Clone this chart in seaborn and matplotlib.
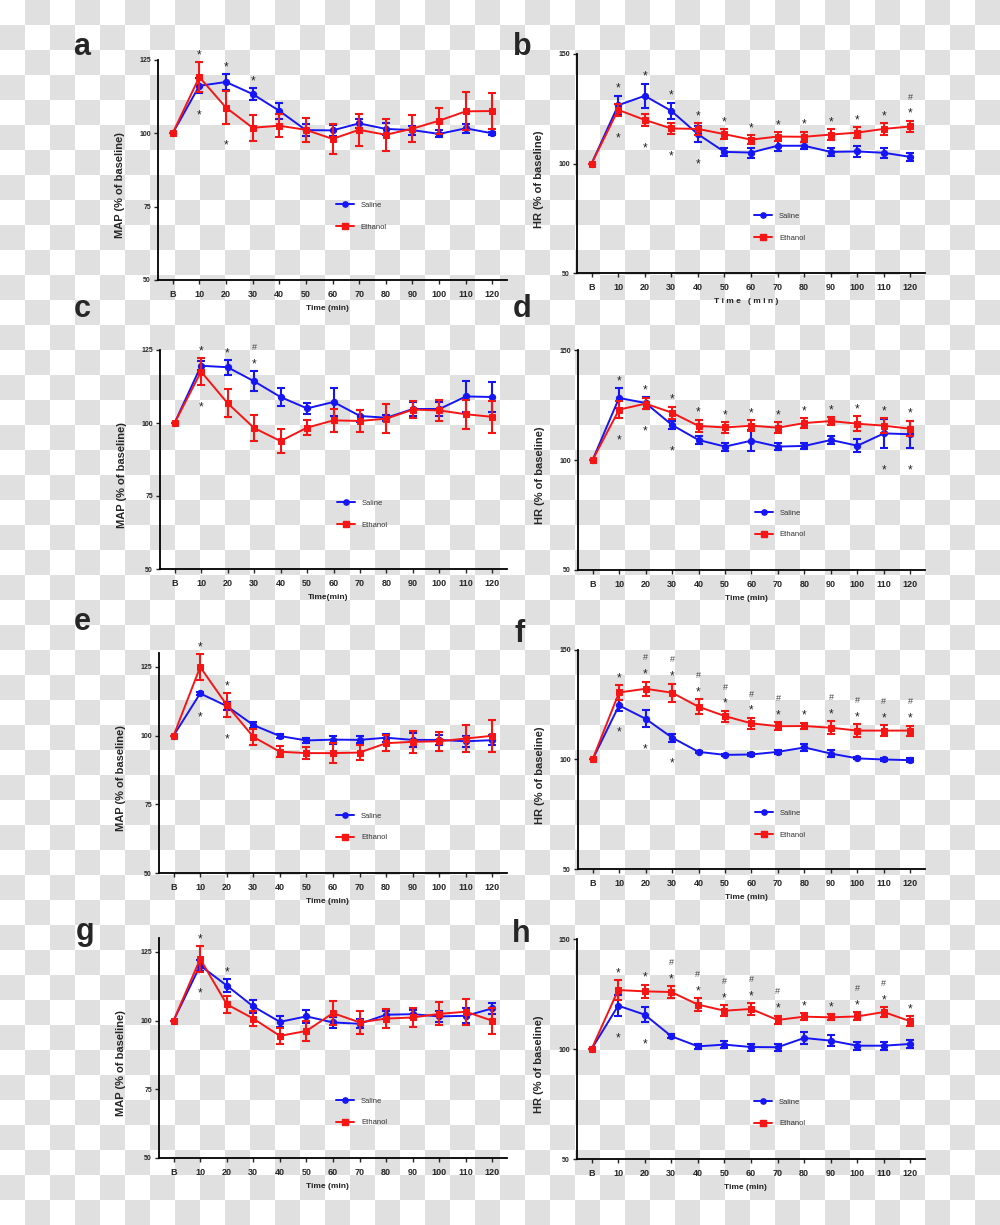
import numpy as np
import matplotlib
matplotlib.use('Agg')
import matplotlib.pyplot as plt
import seaborn as sns
from matplotlib.colors import ListedColormap
from matplotlib.lines import Line2D

times = ['B', '10', '20', '30', '40', '50', '60', '70', '80', '90', '100', '110', '120']

# a - MAP
a_sal = [100, 116.2, 117.5, 113.4, 107.7, 101.1, 101.0, 103.4, 101.5, 101.1, 99.8, 101.7, 100.0]
a_sal_se = [0, 2.5, 2.7, 2.0, 2.7, 2.0, 2.0, 1.5, 2.0, 1.5, 1.2, 1.5, 0.5]
a_eth = [100, 119.2, 108.8, 101.9, 102.6, 101.2, 98.1, 101.2, 99.5, 101.6, 104.3, 107.5, 107.6]
a_eth_se = [0, 5.0, 5.5, 4.5, 4.0, 4.0, 5.0, 5.5, 5.5, 4.5, 4.5, 6.5, 6.0]
# b - HR
b_sal = [100, 126.6, 130.9, 124.0, 113.4, 105.3, 105.0, 108.1, 108.1, 105.3, 105.5, 104.9, 103.0]
b_sal_se = [0, 4.4, 5.5, 3.8, 3.5, 1.8, 2.3, 2.3, 1.7, 1.7, 2.4, 2.3, 2.0]
b_eth = [100, 124.5, 119.9, 116.0, 115.8, 113.4, 110.9, 112.3, 112.2, 113.2, 114.1, 115.8, 116.9]
b_eth_se = [0, 2.7, 2.8, 2.7, 2.7, 2.3, 1.9, 2.0, 2.3, 2.6, 2.6, 2.6, 2.6]
# c - MAP
c_sal = [100, 119.6, 119.1, 114.3, 108.9, 105.0, 107.2, 102.4, 101.8, 104.8, 104.8, 109.1, 108.9]
c_sal_se = [0, 1.5, 2.5, 3.4, 3.0, 2.0, 4.8, 2.0, 1.0, 2.5, 2.5, 5.4, 5.0]
c_eth = [100, 117.6, 106.8, 98.3, 93.8, 98.4, 100.9, 100.7, 101.5, 104.6, 104.3, 103.0, 102.1]
c_eth_se = [0, 4.5, 4.7, 4.5, 4.0, 2.5, 3.9, 3.8, 5.0, 3.0, 3.5, 5.0, 5.5]
# d - HR
d_sal = [100, 128.2, 125.9, 115.9, 109.1, 106.1, 108.8, 106.1, 106.4, 109.1, 106.5, 112.1, 111.7]
d_sal_se = [0, 4.5, 2.7, 1.8, 1.8, 1.8, 4.9, 1.7, 1.2, 2.0, 3.0, 6.6, 6.2]
d_eth = [100, 122.9, 125.6, 121.5, 115.5, 114.8, 115.6, 114.7, 116.8, 117.7, 116.5, 115.6, 114.2]
d_eth_se = [0, 3.8, 2.6, 2.7, 2.8, 2.3, 2.4, 2.4, 2.2, 1.7, 3.3, 3.3, 3.5]
# e - MAP
e_sal = [100, 115.3, 110.7, 103.8, 99.8, 98.2, 98.5, 98.4, 99.2, 98.4, 98.4, 97.9, 98.3]
e_sal_se = [0, 0.6, 1.5, 1.2, 0.6, 1.0, 1.5, 1.3, 1.5, 2.5, 1.8, 2.0, 1.8]
e_eth = [100, 124.9, 111.1, 99.5, 94.1, 93.6, 93.6, 93.8, 97.2, 97.7, 97.9, 98.9, 99.9]
e_eth_se = [0, 4.6, 4.3, 2.8, 2.0, 2.3, 3.7, 2.7, 3.0, 4.0, 3.5, 4.8, 5.8]
# f - HR
f_sal = [100, 124.7, 118.6, 110.0, 103.5, 102.1, 102.3, 103.5, 105.5, 102.7, 100.5, 100.0, 99.7]
f_sal_se = [0, 2.4, 3.9, 1.8, 0.5, 0.4, 0.5, 1.0, 1.7, 1.5, 0.5, 0.5, 1.0]
f_eth = [100, 130.6, 132.3, 130.5, 124.1, 119.8, 116.5, 115.2, 115.3, 114.5, 113.2, 113.2, 113.2]
f_eth_se = [0, 3.3, 3.3, 4.2, 3.3, 2.5, 2.6, 1.8, 1.5, 3.0, 3.0, 2.4, 2.3]
# g - MAP
g_sal = [100, 120.0, 112.7, 105.1, 99.5, 101.5, 99.3, 98.8, 102.1, 102.3, 101.5, 101.7, 104.4]
g_sal_se = [0, 2.0, 2.3, 2.3, 2.0, 2.3, 2.0, 1.7, 1.5, 1.5, 2.0, 2.7, 2.0]
g_eth = [100, 122.4, 105.9, 100.7, 94.4, 96.2, 102.7, 99.3, 100.7, 101.1, 102.4, 103.2, 99.9]
g_eth_se = [0, 4.6, 3.0, 2.6, 3.0, 3.5, 4.5, 4.2, 3.6, 3.5, 4.2, 4.7, 4.8]
# h - HR
h_sal = [100, 119.7, 115.6, 105.8, 101.2, 102.0, 100.9, 100.8, 105.0, 103.8, 101.5, 101.5, 102.3]
h_sal_se = [0, 4.7, 3.5, 1.0, 1.2, 1.5, 1.6, 1.6, 2.8, 2.5, 1.8, 1.8, 1.8]
h_eth = [100, 126.8, 126.2, 125.9, 120.2, 117.4, 118.2, 113.2, 114.7, 114.4, 114.8, 116.8, 112.6]
h_eth_se = [0, 4.4, 3.0, 2.6, 3.0, 2.6, 2.6, 2.0, 1.6, 1.3, 1.8, 2.2, 2.2]

# significance marks (index of time point)
a_star_up, a_star_dn, a_hash = [1, 2, 3], [1, 2], []
b_star_up, b_star_dn, b_hash = list(range(1, 13)), [1, 2, 3, 4], [12]
c_star_up, c_star_dn, c_hash = [1, 2, 3], [1], [3]
d_star_up, d_star_dn, d_hash = list(range(1, 13)), [1, 2, 3, 11, 12], []
e_star_up, e_star_dn, e_hash = [1, 2], [1, 2], []
f_star_up, f_star_dn, f_hash = list(range(1, 13)), [1, 2, 3], [2, 3, 4, 5, 6, 7, 9, 10, 11, 12]
g_star_up, g_star_dn, g_hash = [1, 2], [1], []
h_star_up, h_star_dn, h_hash = list(range(1, 13)), [1, 2], [3, 4, 5, 6, 7, 10, 11]

sns.set_style('ticks')
plt.rcParams['font.family'] = ['Liberation Sans', 'DejaVu Sans']

W, H = 1000, 1225
fig = plt.figure(figsize=(10, 12.25), dpi=100)

# transparent-style checker background
bg = fig.add_axes([0, 0, 1, 1], zorder=-10)
rows, cols = np.indices((H // 25 + 1, W // 25))
bg.imshow((rows + cols) % 2, cmap=ListedColormap(['#ffffff', '#e0e0e0']),
          extent=(0, W, (H // 25 + 1) * 25, 0), interpolation='nearest', aspect='auto')
bg.set_xlim(0, W)
bg.set_ylim(H, 0)
bg.axis('off')

panels = [
    # letter, sal, sal_se, eth, eth_se, ytop, yticks, ylabel, xlabel, box(px: left, top, right, bottom), legend y, marks
    ('a', a_sal, a_sal_se, a_eth, a_eth_se, 125, [50, 75, 100, 125], 'MAP (% of baseline)', 'Time (min)',
     (158, 60, 507, 280), 0.29, (a_star_up, a_star_dn, a_hash), (82, 55)),
    ('b', b_sal, b_sal_se, b_eth, b_eth_se, 150, [50, 100, 150], 'HR (% of baseline)', 'T i m e   ( m i n )',
     (577, 54, 925, 273), 0.21, (b_star_up, b_star_dn, b_hash), (522, 55)),
    ('c', c_sal, c_sal_se, c_eth, c_eth_se, 125, [50, 75, 100, 125], 'MAP (% of baseline)', 'Time(min)',
     (160, 350, 507, 569), 0.25, (c_star_up, c_star_dn, c_hash), (82, 317)),
    ('d', d_sal, d_sal_se, d_eth, d_eth_se, 150, [50, 100, 150], 'HR (% of baseline)', 'Time (min)',
     (578, 350, 925, 570), 0.21, (d_star_up, d_star_dn, d_hash), (522, 317)),
    ('e', e_sal, e_sal_se, e_eth, e_eth_se, 130, [50, 75, 100, 125], 'MAP (% of baseline)', 'Time (min)',
     (159, 653, 507, 873), 0.21, (e_star_up, e_star_dn, e_hash), (82, 630)),
    ('f', f_sal, f_sal_se, f_eth, f_eth_se, 150, [50, 100, 150], 'HR (% of baseline)', 'Time (min)',
     (578, 650, 925, 869), 0.205, (f_star_up, f_star_dn, f_hash), (520, 642)),
    ('g', g_sal, g_sal_se, g_eth, g_eth_se, 130, [50, 75, 100, 125], 'MAP (% of baseline)', 'Time (min)',
     (159, 938, 507, 1158), 0.21, (g_star_up, g_star_dn, g_hash), (85, 940)),
    ('h', h_sal, h_sal_se, h_eth, h_eth_se, 150, [50, 100, 150], 'HR (% of baseline)', 'Time (min)',
     (577, 939, 925, 1159), 0.21, (h_star_up, h_star_dn, h_hash), (521, 942)),
]

x = np.arange(len(times))
blue, red = '#1515f5', '#f51515'

for (letter, sal, sal_se, eth, eth_se, ytop, yticks, ylab, xlab, box, leg_y, marks, lpos) in panels:
    l, t, r, b = box
    ax = fig.add_axes([l / W, 1 - b / H, (r - l) / W, (b - t) / H])
    ax.set_facecolor('none')
    for vals, se, col, mk, ms in [(sal, sal_se, blue, 'o', 4.5), (eth, eth_se, red, 's', 4.5)]:
        ax.errorbar(x, vals, yerr=se, fmt='none', ecolor=col, elinewidth=1.5, capsize=2.8, capthick=1.5)
        sns.lineplot(x=x, y=vals, color=col, marker=mk, markersize=ms, markeredgecolor=col,
                     linewidth=1.4, ax=ax, errorbar=None)

    sal, sal_se, eth, eth_se = map(np.array, (sal, sal_se, eth, eth_se))
    top = np.maximum(sal + sal_se, eth + eth_se)
    bot = np.minimum(sal - sal_se, eth - eth_se)
    up, dn, hs = marks
    for i in up:
        ax.annotate('*', (x[i], top[i]), xytext=(0, 5), textcoords='offset points',
                    ha='center', va='center', fontsize=8.5, color='#222222')
    for i in dn:
        ax.annotate('*', (x[i], bot[i]), xytext=(0, -16), textcoords='offset points',
                    ha='center', va='center', fontsize=8.5, color='#222222')
    for i in hs:
        ax.annotate('#', (x[i], top[i]), xytext=(0, 17), textcoords='offset points',
                    ha='center', va='center', fontsize=6.5, color='#444444')

    ax.set_xlim(-0.55, 12.55)
    ax.set_ylim(50, ytop)
    ax.set_xticks(x)
    ax.set_xticklabels(times)
    ax.set_yticks(yticks)
    sns.despine(ax=ax)
    for s in ['left', 'bottom']:
        ax.spines[s].set_linewidth(1.3)
        ax.spines[s].set_color('black')
    ax.tick_params(axis='x', length=3, width=1, labelsize=6.5, pad=4)
    ax.tick_params(axis='y', length=3, width=1, labelsize=5, pad=2)
    for lab in ax.get_xticklabels() + ax.get_yticklabels():
        lab.set_fontweight('bold')
    ax.set_xlabel(xlab, fontsize=6, fontweight='bold', color='#222222')
    ax.xaxis.set_label_coords(0.485, -0.112)
    ax.set_ylabel(ylab, fontsize=8, fontweight='bold')
    ax.yaxis.set_label_coords(-0.095, 0.43)

    handles = [Line2D([], [], color=blue, marker='o', markersize=3.8, linewidth=1.4),
               Line2D([], [], color=red, marker='s', markersize=3.8, linewidth=1.4)]
    ax.legend(handles, ['Saline', 'Ethanol'], loc='center left', bbox_to_anchor=(0.51, leg_y),
              frameon=False, fontsize=5.5, handlelength=2.3, handletextpad=0.9,
              labelspacing=1.9, borderpad=0, borderaxespad=0, labelcolor='#333333')

    fig.text(lpos[0] / W, 1 - lpos[1] / H, letter, fontsize=22, fontweight='bold',
             ha='center', va='baseline')

fig.savefig('out.png', dpi=100)
